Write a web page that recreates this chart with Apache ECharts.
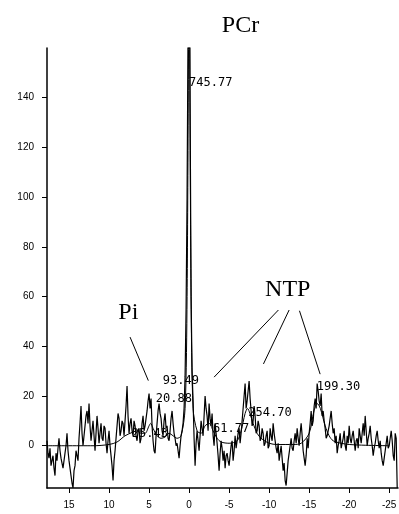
<!DOCTYPE html>
<html>
<head>
<meta charset="utf-8">
<style>
  html, body { margin: 0; padding: 0; background: #fff; }
  #chart { width: 399px; height: 514px; }
</style>
<script src="https://cdn.jsdelivr.net/npm/echarts@6/dist/echarts.min.js"></script>
</head>
<body>
<div id="chart"></div>
<script>
// 31P spectrum, ppm runs right to left, sampled every 0.125 ppm from 17.75
const ppmStart = 17.75;
const ppmStep = 0.125;
const spectrum = [
  2, -3, -5, -1, -8, -6, -4, -9, -12, -3, -6, -1, 3, -2, -5, -7,
  -9, -6, -3, 0, 5, -2, -6, -9, -12, -15, -17, -10, -8, -2, -4, -6,
  3, 9, 16, 5, 0, 4, 8, 12, 14, 9, 17, 8, 2, 6, 10, 4,
  -2, 5, 12, 7, 1, 5, 9, 3, 2, 8, 7, 1, -3, 2, 6, 0,
  -4, -8, -14, -6, -2, 3, 8, 13, 11, 4, 6, 10, 9, 4, 10, 16,
  24, 12, 5, 9, 11, 6, 4, 10, 8, 4, 2, 6, 7, 1, 3, 9,
  12, 6, 8, 11, 14, 18, 21, 15, 19, 8, 2, -2, -3, 4, 9, 14,
  17, 13, 11, 6, 4, 10, 13, 7, 8, 3, 2, 6, 11, 14, 9, 5,
  3, 0, 1, -2, -5, 0, 4, 6, 9, 15, 28, 55, 100, 170, 260, 140,
  60, 30, 18, 3, -8, 1, 6, 2, -2, 4, 10, 7, 4, 12, 20, 15,
  12, 6, 17, 11, 8, 13, 4, 0, 9, 5, 1, -4, -10, -3, 2, -1,
  -6, -2, -9, -4, -3, -6, -8, -4, 0, 2, -6, -2, 4, -1, 2, 5,
  7, 1, 5, 10, 15, 20, 25, 15, 18, 22, 26, 19, 14, 8, 10, 16,
  12, 5, 6, 10, 8, 2, 3, 7, 5, 0, 1, 4, 6, -1, 0, 7,
  4, 2, 9, 5, 2, -1, -3, 1, -6, -3, 0, -5, -10, -7, -14, -16,
  -11, -6, -3, 0, 3, -1, -2, 2, 5, 1, 7, 3, 0, 5, 9, 4,
  -2, -5, -8, -4, 3, -1, 5, 9, 14, 8, 10, 16, 19, 15, 25, 22,
  18, 16, 21, 12, 14, 10, 7, 3, 4, 6, 8, 11, 14, 9, 5, 7,
  1, 4, -3, 0, 2, 5, -1, 1, 3, 6, 0, -2, 4, 1, 8, 3,
  1, 4, 6, 2, -2, 2, 3, -1, 7, 4, 1, 5, 9, 4, 12, 6,
  0, 3, 5, 8, 3, 0, -4, -1, 1, 4, 6, 2, -1, 2, -3, -6,
  -8, -5, -2, 1, 4, -1, 0, 3, 6, 2, -4, -6, 5, 3, -17
];

// fitted curve (baseline plus peaks)
const fitPpm = [17.75, 12, 10, 9, 8, 7, 6.5, 6, 5.5, 5, 4.8, 4.5, 4, 3.5, 3, 2.5, 2, 1.5, 1, 0.5, 0.25, 0,
  -0.25, -0.5, -1, -1.5, -2, -2.5, -3, -3.5, -4, -5, -6, -6.5, -7, -7.3, -7.6, -8, -8.5, -9, -10, -11,
  -13, -14, -15, -15.6, -16, -16.4, -17, -17.5, -18, -19, -20, -22, -24.9];
const fitValue = [0, 0, 0.5, 1.5, 4, 5.5, 6, 5, 5, 8, 9, 7, 4, 3, 3.5, 5, 4, 3, 4, 15, 60, 180,
  60, 15, 6, 5, 8, 9, 6, 3, 1.5, 1, 2, 6, 13, 15, 13, 9, 5, 3, 1, 0.5,
  0.5, 1, 5, 14, 17, 15, 8, 4, 2, 1, 0.5, 0.2, 0];

const xTicks = [15, 10, 5, 0, -5, -10, -15, -20, -25];
const yTicks = [0, 20, 40, 60, 80, 100, 120, 140];

const peakLabels = ['745.77', '93.49', '20.88', '25.43', '61.77', '254.70', '199.30'];
const peakLabelPpm = [0, 3.29, 4.16, 7.16, -3.0, -7.4, -15.96];
const peakLabelValue = [146, 26.2, 18.7, 4.8, 6.7, 13.4, 23.6];

const metaboliteNames = ['PCr', 'Pi', 'NTP'];
const metabolitePpm = [-4.09, 8.84, -9.5];
const metaboliteValue = [169, 53.7, 62.7];

// pointer lines from the names to the peaks
const pointerLines = [
  [[7.375, 43.7], [5.09, 26.2]],
  [[-11.16, 54.6], [-3.125, 27.6]],
  [[-12.5, 54.6], [-9.29, 32.9]],
  [[-13.79, 54.3], [-16.375, 28.8]]
];

const chart = echarts.init(document.getElementById('chart'));

const spectrumData = spectrum.map((v, i) => [ppmStart - i * ppmStep, v]);
const fitData = fitPpm.map((p, i) => [p, fitValue[i]]);

const series = [
  {
    type: 'line',
    data: spectrumData,
    symbol: 'none',
    lineStyle: { color: '#000', width: 1.2 },
    animation: false
  },
  {
    type: 'line',
    data: fitData,
    smooth: 0.3,
    symbol: 'none',
    lineStyle: { color: '#000', width: 1 },
    animation: false
  }
];
pointerLines.forEach((seg) => {
  series.push({
    type: 'line',
    data: seg,
    symbol: 'none',
    lineStyle: { color: '#000', width: 1 },
    animation: false
  });
});

chart.setOption({
  animation: false,
  grid: { left: 47, right: 1, top: 48, bottom: 26, outerBoundsMode: 'none', containLabel: false },
  xAxis: {
    type: 'value',
    inverse: true,
    min: -26.1,
    max: 17.75,
    axisLine: { show: true, onZero: false, lineStyle: { color: '#000', width: 1.5 } },
    axisTick: { show: true, length: 5, customValues: xTicks, lineStyle: { color: '#000' } },
    axisLabel: { customValues: xTicks, margin: 12, color: '#000', fontSize: 10, fontFamily: 'Liberation Sans' },
    splitLine: { show: false }
  },
  yAxis: {
    type: 'value',
    min: -17,
    max: 160,
    axisLine: { show: true, onZero: false, lineStyle: { color: '#000', width: 1.5 } },
    axisTick: { show: true, length: 5, customValues: yTicks, lineStyle: { color: '#000' } },
    axisLabel: { customValues: yTicks, margin: 13, color: '#000', fontSize: 10, fontFamily: 'Liberation Sans' },
    splitLine: { show: false }
  },
  series: series
});

const graphics = [];
peakLabels.forEach((t, i) => {
  const p = chart.convertToPixel({ gridIndex: 0 }, [peakLabelPpm[i], peakLabelValue[i]]);
  graphics.push({
    type: 'text', x: p[0], y: p[1], z: 10,
    style: { text: t, font: '12px "DejaVu Sans Mono"', fill: '#000', align: 'left', verticalAlign: 'middle' }
  });
});
metaboliteNames.forEach((t, i) => {
  const p = chart.convertToPixel({ gridIndex: 0 }, [metabolitePpm[i], metaboliteValue[i]]);
  graphics.push({
    type: 'text', x: p[0], y: p[1], z: 10,
    style: { text: t, font: '24px "Liberation Serif"', fill: '#000', align: 'left', verticalAlign: 'middle' }
  });
});
chart.setOption({ graphic: graphics });
</script>
</body>
</html>
